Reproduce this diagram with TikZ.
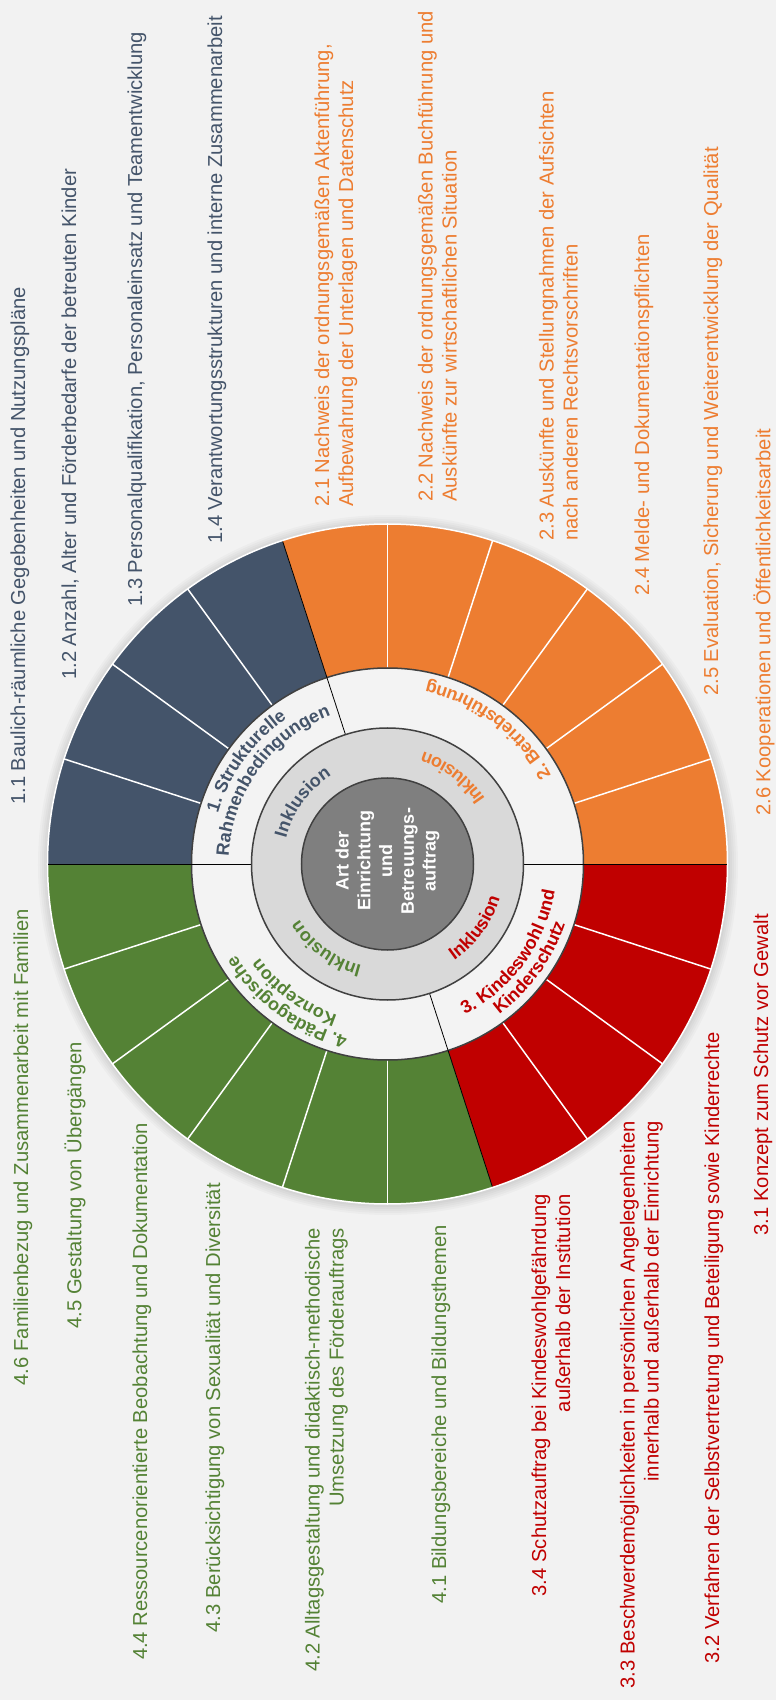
\documentclass[tikz,border=0pt]{standalone}
\usepackage{fontspec}
\setmainfont{Liberation Sans}
\usetikzlibrary{decorations.text}
\definecolor{bg}{HTML}{F2F2F2}
\definecolor{ringwhite}{HTML}{F3F3F3}
\definecolor{cblue}{HTML}{44546A}
\definecolor{corange}{HTML}{ED7D31}
\definecolor{cred}{HTML}{C00000}
\definecolor{cgreen}{HTML}{548235}
\definecolor{ringlight}{HTML}{D9D9D9}
\definecolor{cdisk}{HTML}{7F7F7F}
\definecolor{cborder}{HTML}{404040}
\newcommand{\ringfont}{\bfseries\fontsize{18}{21}\selectfont}
\begin{document}
\begin{tikzpicture}[x=1pt,y=1pt,
  lbl/.style={rotate=90, inner sep=0pt, font=\fontsize{20.2}{24}\selectfont},
  toplbl/.style={lbl, anchor=west, align=left},
  botlbl/.style={lbl, anchor=east, align=right},
  sepline/.style={white, line width=1.5pt},
  secline/.style={black, line width=0.8pt},
  ringborder/.style={draw=cborder, line width=1.5pt}
]
\useasboundingbox (-387.5,-836) rectangle (388.5,864);
\fill[bg] (-387.5,-836) rectangle (388.5,864);
% soft shadow
\foreach \r in {350,348,...,341} \fill[black,opacity=0.025] (0.5,-1) circle (\r);
% sector fills
\fill[cblue] (0,0) -- (180:340) arc[start angle=180,end angle=108,radius=340] -- cycle;
\fill[corange] (0,0) -- (108:340) arc[start angle=108,end angle=0,radius=340] -- cycle;
\fill[cred] (0,0) -- (0:340) arc[start angle=0,end angle=-72,radius=340] -- cycle;
\fill[cgreen] (0,0) -- (-72:340) arc[start angle=-72,end angle=-180,radius=340] -- cycle;
\foreach \a in {162,144,126,90,72,54,36,18,-18,-36,-54,-90,-108,-126,-144,-162}
  \draw[sepline] (\a:190) -- (\a:340);
\draw[white, line width=1.5pt] (0,0) circle (340);
% white ring
\filldraw[fill=ringwhite, ringborder] (0,0) circle (196);
\foreach \a in {180,108,0,-72} \draw[secline] (\a:136) -- (\a:339);
% light ring
\filldraw[fill=ringlight, ringborder] (0,0) circle (136);
% center disk
\filldraw[fill=cdisk, ringborder] (0,0) circle (86);
\node[rotate=90, text=white, font=\bfseries\fontsize{18}{21.8}\selectfont, align=center, inner sep=0pt] (ctr) at (0,3) {Art der\\Einrichtung\\und\\Betreuungs-\\auftrag};
% curved section titles
\path[decorate, decoration={text along path, text align=center, text={|\color{cblue}\ringfont|1. Strukturelle}}]
  (178:177) arc[start angle=178, end angle=110, radius=177];
\path[decorate, decoration={text along path, text align=center, text={|\color{cblue}\ringfont|Rahmenbedingungen}}]
  (179:159) arc[start angle=179, end angle=109, radius=159];
\path[decorate, decoration={text along path, text align=center, text={|\color{corange}\ringfont|2. Betriebsführung}}]
  (2:186) arc[start angle=2, end angle=104, radius=186];
\path[decorate, decoration={text along path, text align=center, text={|\color{cred}\ringfont|3. Kindeswohl und}}]
  (-70:169.5) arc[start angle=-70, end angle=-2, radius=169.5];
\path[decorate, decoration={text along path, text align=center, text={|\color{cred}\ringfont|Kinderschutz}}]
  (-70:187.5) arc[start angle=-70, end angle=-2, radius=187.5];
\path[decorate, decoration={text along path, text align=center, text={|\color{cgreen}\ringfont|4. Pädagogische}}]
  (-74:177) arc[start angle=-74, end angle=-178, radius=177];
\path[decorate, decoration={text along path, text align=center, text={|\color{cgreen}\ringfont|Konzeption}}]
  (-74:159) arc[start angle=-74, end angle=-178, radius=159];
% Inklusion
\path[decorate, decoration={text along path, text align=center, text={|\color{cblue}\ringfont|Inklusion}}]
  (178:104.5) arc[start angle=178, end angle=110, radius=104.5];
\path[decorate, decoration={text along path, text align=center, text={|\color{corange}\ringfont|Inklusion}}]
  (2:117.5) arc[start angle=2, end angle=104, radius=117.5];
\path[decorate, decoration={text along path, text align=center, text={|\color{cred}\ringfont|Inklusion}}]
  (-70:117.5) arc[start angle=-70, end angle=-2, radius=117.5];
\path[decorate, decoration={text along path, text align=center, text={|\color{cgreen}\ringfont|Inklusion}}]
  (-74:104.5) arc[start angle=-74, end angle=-178, radius=104.5];
% outer labels
\node[toplbl, text=cblue] (l11) at (-367.5,59) {1.1 Baulich-räumliche Gegebenheiten und Nutzungspläne};
\node[toplbl, text=cblue] (l12) at (-317.5,184) {1.2 Anzahl, Alter und Förderbedarfe der betreuten Kinder};
\node[toplbl, text=cblue] (l13) at (-250.5,257) {1.3 Personalqualifikation, Personaleinsatz und Teamentwicklung};
\node[toplbl, text=cblue] (l14) at (-170.5,320) {1.4 Verantwortungsstrukturen und interne Zusammenarbeit};
\node[toplbl, text=corange] (l21) at (-51.5,357) {2.1 Nachweis der ordnungsgemäßen Aktenführung,\\Aufbewahrung der Unterlagen und Datenschutz};
\node[toplbl, text=corange] (l22) at (50,362) {2.2 Nachweis der ordnungsgemäßen Buchführung und\\Auskünfte zur wirtschaftlichen Situation};
\node[toplbl, text=corange] (l23) at (171,323) {2.3 Auskünfte und Stellungnahmen der Aufsichten\\nach anderen Rechtsvorschriften};
\node[toplbl, text=corange] (l24) at (256.5,268) {2.4 Melde- und Dokumentationspflichten};
\node[toplbl, text=corange] (l25) at (325.5,168) {2.5 Evaluation, Sicherung und Weiterentwicklung der Qualität};
\node[toplbl, text=corange] (l26) at (376.5,48) {2.6 Kooperationen und Öffentlichkeitsarbeit};
\node[botlbl, text=cred] (l31) at (375.5,-50) {3.1 Konzept zum Schutz vor Gewalt};
\node[botlbl, text=cred] (l32) at (326.5,-168) {3.2 Verfahren der Selbstvertretung und Beteiligung sowie Kinderrechte};
\node[botlbl, text=cred] (l33) at (254,-257) {3.3 Beschwerdemöglichkeiten in persönlichen Angelegenheiten\\innerhalb und außerhalb der Einrichtung};
\node[botlbl, text=cred] (l34) at (163.5,-330) {3.4 Schutzauftrag bei Kindeswohlgefährdung\\außerhalb der Institution};
\node[botlbl, text=cgreen] (l41) at (53.5,-361) {4.1 Bildungsbereiche und Bildungsthemen};
\node[botlbl, text=cgreen] (l42) at (-61,-364) {4.2 Alltagsgestaltung und didaktisch-methodische\\Umsetzung des Förderauftrags};
\node[botlbl, text=cgreen] (l43) at (-172.5,-319) {4.3 Berücksichtigung von Sexualität und Diversität};
\node[botlbl, text=cgreen] (l44) at (-245.5,-259) {4.4 Ressourcenorientierte Beobachtung und Dokumentation};
\node[botlbl, text=cgreen] (l45) at (-312.5,-178) {4.5 Gestaltung von Übergängen};
\node[botlbl, text=cgreen] (l46) at (-364.5,-45) {4.6 Familienbezug und Zusammenarbeit mit Familien};
\end{tikzpicture}
\end{document}
